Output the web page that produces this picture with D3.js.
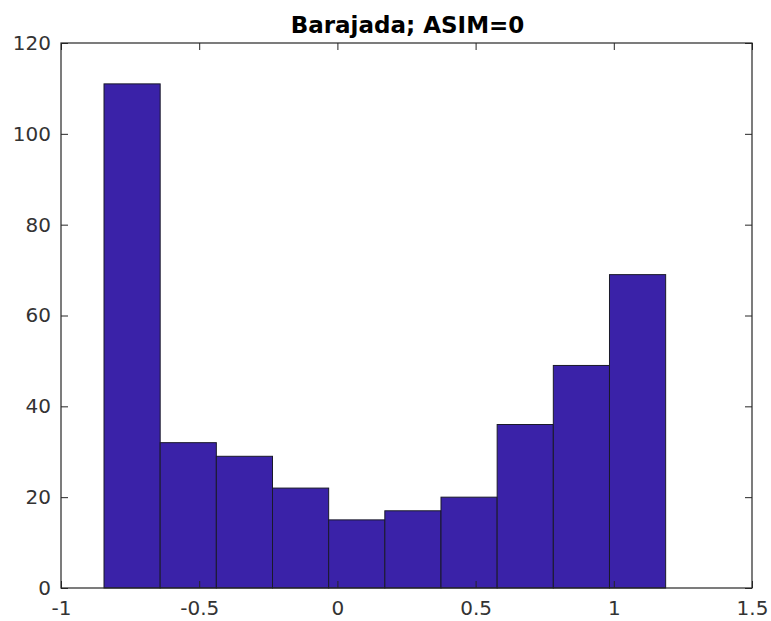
<!DOCTYPE html>
<html>
<head>
<meta charset="utf-8">
<script src="https://cdn.jsdelivr.net/npm/d3@7"></script>
<style>
  html, body { margin: 0; padding: 0; background: #fff; }
  svg { display: block; }
</style>
</head>
<body>
<svg id="chart" width="771" height="621"></svg>
<script>
// Histogram data
const binStart = -0.8444;
const binWidth = 0.2032;
const counts = [111, 32, 29, 22, 15, 17, 20, 36, 49, 69];
const xTicks = [-1, -0.5, 0, 0.5, 1, 1.5];
const yTicks = [0, 20, 40, 60, 80, 100, 120];
const title = "Barajada; ASIM=0";

const W = 771, H = 621;
const m = { left: 61, right: 771 - 752, top: 43, bottom: 621 - 588 };
const svg = d3.select("#chart");
const pw = W - m.left - m.right, ph = H - m.top - m.bottom;

const x = d3.scaleLinear().domain([-1, 1.5]).range([m.left, m.left + pw]);
const y = d3.scaleLinear().domain([0, 120]).range([m.top + ph, m.top]);

const bins = counts.map((c, i) => ({ x0: binStart + i * binWidth, x1: binStart + (i + 1) * binWidth, c }));

svg.append("g").selectAll("rect").data(bins).join("rect")
  .attr("x", d => x(d.x0))
  .attr("y", d => y(d.c))
  .attr("width", d => x(d.x1) - x(d.x0))
  .attr("height", d => y(0) - y(d.c))
  .attr("fill", "#3a22a8")
  .attr("stroke", "#1a1a2a")
  .attr("stroke-width", 1);

const textColor = "#262626";
const fontFam = "DejaVu Sans, sans-serif";
const tickLen = 7;

// Axes
const gx = svg.append("g").attr("transform", `translate(0,${m.top + ph})`)
  .call(d3.axisBottom(x).tickValues(xTicks).tickFormat(d => String(d)).tickSizeInner(-tickLen).tickSizeOuter(0).tickPadding(13));
const gxt = svg.append("g").attr("transform", `translate(0,${m.top})`)
  .call(d3.axisTop(x).tickValues(xTicks).tickFormat("").tickSizeInner(-tickLen).tickSizeOuter(0));
const gy = svg.append("g").attr("transform", `translate(${m.left},0)`)
  .call(d3.axisLeft(y).tickValues(yTicks).tickFormat(d => String(d)).tickSizeInner(-tickLen).tickSizeOuter(0).tickPadding(10));
const gyr = svg.append("g").attr("transform", `translate(${m.left + pw},0)`)
  .call(d3.axisRight(y).tickValues(yTicks).tickFormat("").tickSizeInner(-tickLen).tickSizeOuter(0));

[gx, gxt, gy, gyr].forEach(g => {
  g.select(".domain").remove();
  g.selectAll(".tick line").attr("stroke", textColor).attr("stroke-width", 1);
  g.selectAll(".tick text").attr("fill", "#333").style("font-family", fontFam).style("font-size", "20px");
});

// Box
svg.append("rect")
  .attr("x", m.left).attr("y", m.top).attr("width", pw).attr("height", ph)
  .attr("fill", "none").attr("stroke", textColor).attr("stroke-width", 1.2);

// Title
svg.append("text")
  .attr("x", m.left + pw / 2 + 1).attr("y", 33)
  .attr("text-anchor", "middle")
  .attr("fill", "#000")
  .style("font-family", fontFam).style("font-weight", "bold").style("font-size", "23px")
  .text(title);
</script>
</body>
</html>
